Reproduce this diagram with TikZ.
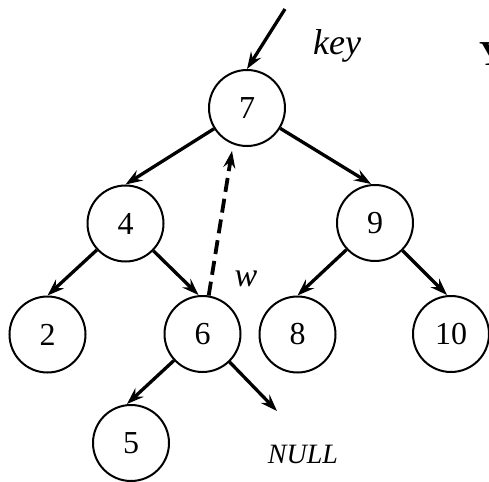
\documentclass[tikz,border=0pt]{standalone}
\usepackage{fontspec}
\setmainfont{Liberation Serif}
\usetikzlibrary{arrows.meta}
\begin{document}
\begin{tikzpicture}[x=1pt,y=-1pt,
  tnode/.style={circle,draw,line width=2pt,minimum size=76pt,inner sep=0pt,font=\fontsize{32}{32}\selectfont},
  edge/.style={line width=3.3pt,-{Stealth[length=17pt,width=12pt,inset=6pt]}},
  lbl/.style={font=\fontsize{34}{34}\selectfont\itshape,inner sep=0pt}]
\clip (0,0) rectangle (489,481);
\useasboundingbox (0,0) rectangle (489,481);
\node[tnode] (n7) at (247,108) {7};
\node[tnode] (n4) at (125.5,223.5) {4};
\node[tnode] (n9) at (375,223) {9};
\node[tnode] (n2) at (47.5,334.5) {2};
\node[tnode] (n6) at (202.5,334) {6};
\node[tnode] (n8) at (297.5,334.5) {8};
\node[tnode] (n10) at (451,334) {10};
\node[tnode] (n5) at (131,443) {5};
\coordinate (in) at (285,9);
\coordinate (wtip) at (232,151);
\coordinate (nulltip) at (277,411);
\draw[edge] (in) -- (n7.north);
\draw[edge] (n7) -- (n4.north);
\draw[edge] (n7) -- ([xshift=-4pt]n9.north);
\draw[edge] (n4) -- (n2.north);
\draw[edge] (n4) -- ([xshift=-4pt]n6.north);
\draw[edge] (n9) -- (n8.north);
\draw[edge] (n9) -- ([xshift=-4pt]n10.north);
\draw[edge] (n6) -- ([xshift=-4pt]n5.north);
\draw[edge] (n6) -- (nulltip);
\draw[edge,line width=3.8pt,dash pattern=on 14pt off 7pt] (n6) -- (wtip);
\node[lbl,font=\fontsize{36}{36}\selectfont\itshape] (key) at (337,46) {key};
\node[lbl] (w) at (246,279) {w};
\node[lbl,font=\fontsize{28}{28}\selectfont\itshape] (null) at (303,454) {NULL};
\node[anchor=base west,inner sep=0pt,font=\fontsize{35}{35}\selectfont\bfseries] (y) at (479,66) {Y};
\end{tikzpicture}
\end{document}
